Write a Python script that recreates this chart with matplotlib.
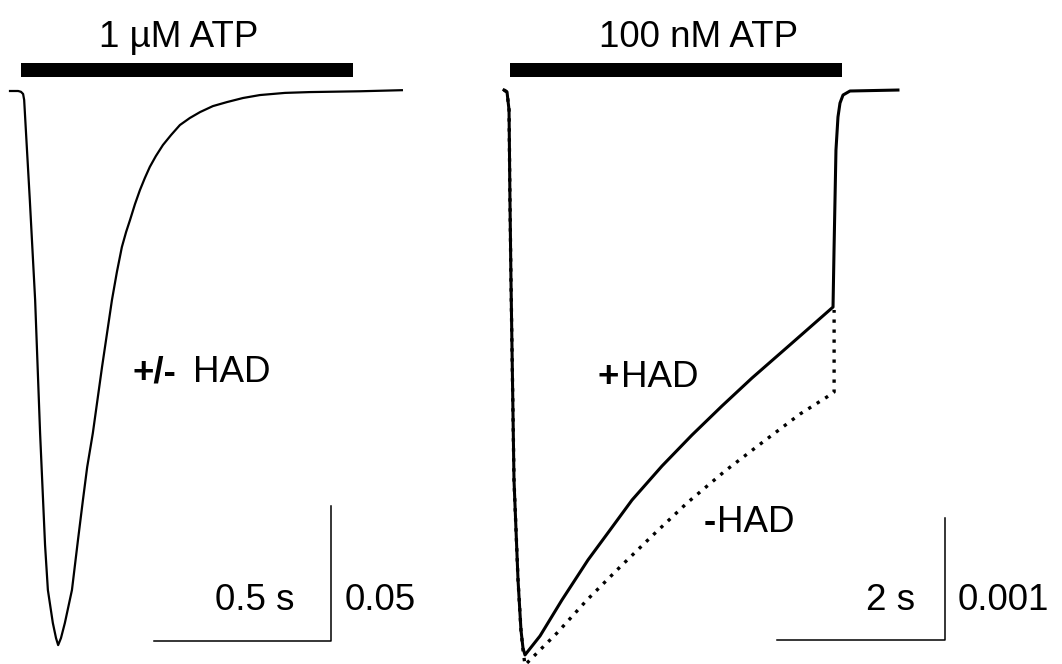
import matplotlib
matplotlib.use('Agg')
import matplotlib.pyplot as plt

plt.rcParams['font.family'] = ['Liberation Sans', 'DejaVu Sans']

# left panel: 1 uM ATP, time in s, current in normalised units
left_t = [0.0, 0.023, 0.031, 0.037, 0.040, 0.048, 0.056, 0.071, 0.085, 0.099, 0.107,
          0.121, 0.130, 0.136, 0.144, 0.155, 0.175, 0.192, 0.206, 0.218, 0.234,
          0.260, 0.288, 0.302, 0.316, 0.328, 0.339, 0.353, 0.367, 0.381, 0.395,
          0.412, 0.432, 0.455, 0.480, 0.508, 0.537, 0.573, 0.613, 0.658, 0.706,
          0.777, 0.847, 0.989, 1.107]
left_i = [0.0, 0.0, -0.0003, -0.0011, -0.0033, -0.0219, -0.0404, -0.0774, -0.1267, -0.1681, -0.1848,
          -0.1970, -0.2026, -0.2052, -0.2026, -0.1970, -0.1848, -0.1663, -0.1515, -0.1393, -0.1267,
          -0.1022, -0.0774, -0.0670, -0.0578, -0.0522, -0.0478, -0.0419, -0.0367, -0.0322, -0.0281,
          -0.0241, -0.0200, -0.0163, -0.0126, -0.0100, -0.0078, -0.0056, -0.0041, -0.0026, -0.0015,
          -0.0007, -0.0004, -0.0001, 0.0003]

# right panel: 100 nM ATP, +HAD (solid) and -HAD (dotted)
plus_t = [0.0, 0.036, 0.060, 0.071, 0.083, 0.119, 0.167, 0.202, 0.226, 0.250,
          0.429, 0.690, 1.000, 1.262, 1.524, 1.881, 2.238, 2.595, 2.952, 3.429,
          3.917, 3.929, 3.952, 3.976, 4.000, 4.036, 4.119, 4.690]
plus_i = [0.0, -0.000016, -0.000164, -0.000902, -0.001557, -0.003197, -0.004016, -0.004426, -0.004574, -0.004631,
          -0.004475, -0.004180, -0.003852, -0.003607, -0.003361, -0.003082, -0.002828, -0.002590, -0.002361, -0.002074,
          -0.001779, -0.001311, -0.000492, -0.000221, -0.000107, -0.000041, -0.000008, 0.0]

minus_t = [0.0, 0.036, 0.060, 0.071, 0.083, 0.119, 0.167, 0.202, 0.226, 0.250,
           0.429, 0.631, 0.988, 1.381, 1.774, 2.179, 2.631, 3.083, 3.524, 3.845,
           3.930, 3.930]
minus_i = [0.0, -0.000016, -0.000164, -0.000902, -0.001557, -0.003197, -0.004016, -0.004426, -0.004590, -0.004713,
           -0.004590, -0.004451, -0.004180, -0.003910, -0.003648, -0.003385, -0.003123, -0.002885, -0.002656, -0.002516,
           -0.002475, -0.001803]

left_bar = (0.031, 0.969)
right_bar = (0.071, 4.024)
left_scale = (0.5, 0.05)
right_scale = (2.0, 0.001)

fs = 26.5
fig = plt.figure(figsize=(10.62, 6.64), dpi=100)
ax1 = fig.add_axes([0, 0, 480 / 1062, 1])
ax2 = fig.add_axes([480 / 1062, 0, 582 / 1062, 1])
for ax in (ax1, ax2):
    ax.set_axis_off()

# ---- left panel
ax1.set_xlim(-0.02825, 1.3277)
ax1.set_ylim(-0.2122, 0.0337)
ax1.plot(left_t, left_i, color='black', lw=1.6, solid_joinstyle='round')
ax1.fill_between(left_bar, 0.0052, 0.0104, color='black', lw=0)
ax1.text(0.476, 0.0163, '1 \u00b5M ATP', ha='center', va='baseline', fontsize=fs)
ax1.text(0.345, -0.1078, '+/-', ha='left', va='baseline', fontsize=fs, fontweight='bold')
ax1.text(0.517, -0.1078, 'HAD', ha='left', va='baseline', fontsize=fs)
x0, y0 = 0.407, -0.2037
ax1.plot([x0, x0 + left_scale[0], x0 + left_scale[0]],
         [y0, y0, y0 + left_scale[1]], color='black', lw=1.1)
ax1.text(0.805, -0.1922, '0.5 s', ha='right', va='baseline', fontsize=fs)
ax1.text(0.946, -0.1922, '0.05', ha='left', va='baseline', fontsize=fs)

# ---- right panel
ax2.set_xlim(-0.2857, 6.643)
ax2.set_ylim(-0.004705, 0.000738)
ax2.plot(minus_t, minus_i, color='black', lw=2.4, linestyle=(0, (1, 2)))
ax2.plot(plus_t, plus_i, color='black', lw=2.2, solid_joinstyle='round')
ax2.fill_between(right_bar, 0.000107, 0.000221, color='black', lw=0)
ax2.text(2.321, 0.000352, '100 nM ATP', ha='center', va='baseline', fontsize=fs)
ax2.text(1.119, -0.002434, '+', ha='left', va='baseline', fontsize=fs, fontweight='bold')
ax2.text(1.392, -0.002434, 'HAD', ha='left', va='baseline', fontsize=fs)
ax2.text(2.38, -0.003623, '-', ha='left', va='baseline', fontsize=fs, fontweight='bold')
ax2.text(2.535, -0.003623, 'HAD', ha='left', va='baseline', fontsize=fs)
x0, y0 = 3.25, -0.004508
ax2.plot([x0, x0 + right_scale[0], x0 + right_scale[0]],
         [y0, y0, y0 + right_scale[1]], color='black', lw=1.1)
ax2.text(4.893, -0.004262, '2 s', ha='right', va='baseline', fontsize=fs)
ax2.text(5.405, -0.004262, '0.001', ha='left', va='baseline', fontsize=fs)

fig.savefig('out.png', dpi=100, facecolor='white')
